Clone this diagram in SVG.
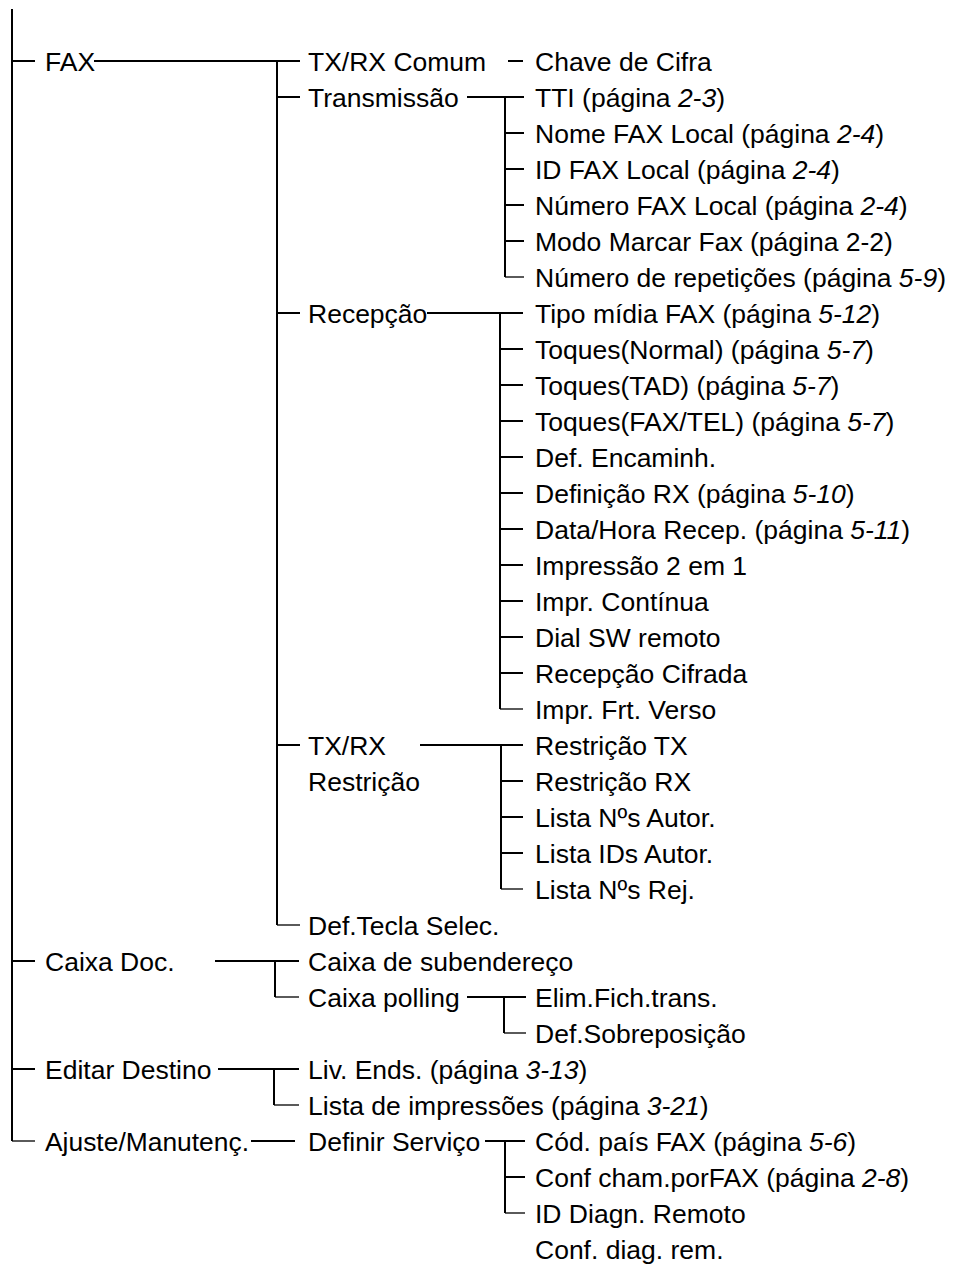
<svg xmlns="http://www.w3.org/2000/svg" width="953" height="1264" viewBox="0 0 953 1264">
<style>
text{font-family:"Liberation Sans",Arial,sans-serif;font-size:26.5px;fill:#000}
.i{font-style:italic}
.c{stroke:#000;stroke-width:2;fill:none}
.e{stroke:#000;stroke-width:1.3;fill:none}
</style>
<rect width="953" height="1264" fill="#fff"/>
<g id="connectors">
<path class="c" d="M12 9V1141M12 61H35M12 961H35M12 1069H35"/>
<path class="e" d="M12 1141H35"/>
<path class="c" d="M94 61H300M277 61V925M277 97H300M277 313H300M277 745H300"/>
<path class="e" d="M277 925H300"/>
<path class="c" d="M508 61H523"/>
<path class="c" d="M467 97H524M505 97V277M505 133H524M505 169H524M505 205H524M505 241H524"/>
<path class="e" d="M505 277H524"/>
<path class="c" d="M427 313H523M500 313V709M500 349H523M500 385H523M500 421H523M500 457H523M500 493H523M500 529H523M500 565H523M500 601H523M500 637H523M500 673H523"/>
<path class="e" d="M500 709H523"/>
<path class="c" d="M420 745H523M501 745V889M501 781H523M501 817H523M501 853H523"/>
<path class="e" d="M501 889H523"/>
<path class="c" d="M215 961H299M275 961V997"/>
<path class="e" d="M275 997H299"/>
<path class="c" d="M467 997H526M504 997V1033"/>
<path class="e" d="M504 1033H526"/>
<path class="c" d="M218 1069H299M274 1069V1105"/>
<path class="e" d="M274 1105H299"/>
<path class="c" d="M251 1141H295"/>
<path class="c" d="M485 1141H525M505 1141V1213M505 1177H525"/>
<path class="e" d="M505 1213H525"/>
</g>
<g id="n-fax"><text x="45" y="70.5">FAX</text></g>
<g id="n-txrx-comum"><text x="308" y="70.5">TX/RX Comum</text></g>
<g id="n-chave"><text x="535" y="70.5">Chave de Cifra</text></g>
<g id="n-transmissao"><text x="308" y="106.5">Transmissão</text></g>
<g id="n-tti"><text x="535" y="106.5">TTI (página <tspan class="i">2-3</tspan>)</text></g>
<g id="n-nome"><text x="535" y="142.5">Nome FAX Local (página <tspan class="i">2-4</tspan>)</text></g>
<g id="n-id"><text x="535" y="178.5">ID FAX Local (página <tspan class="i">2-4</tspan>)</text></g>
<g id="n-numero"><text x="535" y="214.5">Número FAX Local (página <tspan class="i">2-4</tspan>)</text></g>
<g id="n-modo"><text x="535" y="250.5">Modo Marcar Fax (página 2-2)</text></g>
<g id="n-repet"><text x="535" y="286.5">Número de repetições (página <tspan class="i">5-9</tspan>)</text></g>
<g id="n-recepcao"><text x="308" y="322.5">Recepção</text></g>
<g id="n-tipo"><text x="535" y="322.5">Tipo mídia FAX (página <tspan class="i">5-12</tspan>)</text></g>
<g id="n-toq-normal"><text x="535" y="358.5">Toques(Normal) (página <tspan class="i">5-7</tspan>)</text></g>
<g id="n-toq-tad"><text x="535" y="394.5">Toques(TAD) (página <tspan class="i">5-7</tspan>)</text></g>
<g id="n-toq-faxtel"><text x="535" y="430.5">Toques(FAX/TEL) (página <tspan class="i">5-7</tspan>)</text></g>
<g id="n-encaminh"><text x="535" y="466.5">Def. Encaminh.</text></g>
<g id="n-defrx"><text x="535" y="502.5">Definição RX (página <tspan class="i">5-10</tspan>)</text></g>
<g id="n-datahora"><text x="535" y="538.5">Data/Hora Recep. (página <tspan class="i">5-11</tspan>)</text></g>
<g id="n-2em1"><text x="535" y="574.5">Impressão 2 em 1</text></g>
<g id="n-continua"><text x="535" y="610.5">Impr. Contínua</text></g>
<g id="n-dialsw"><text x="535" y="646.5">Dial SW remoto</text></g>
<g id="n-cifrada"><text x="535" y="682.5">Recepção Cifrada</text></g>
<g id="n-frtverso"><text x="535" y="718.5">Impr. Frt. Verso</text></g>
<g id="n-txrx-restr"><text x="308" y="754.5">TX/RX</text><text x="308" y="790.5">Restrição</text></g>
<g id="n-restr-tx"><text x="535" y="754.5">Restrição TX</text></g>
<g id="n-restr-rx"><text x="535" y="790.5">Restrição RX</text></g>
<g id="n-lista-nos-autor"><text x="535" y="826.5">Lista Nºs Autor.</text></g>
<g id="n-lista-ids"><text x="535" y="862.5">Lista IDs Autor.</text></g>
<g id="n-lista-nos-rej"><text x="535" y="898.5">Lista Nºs Rej.</text></g>
<g id="n-deftecla"><text x="308" y="934.5">Def.Tecla Selec.</text></g>
<g id="n-caixadoc"><text x="45" y="970.5">Caixa Doc.</text></g>
<g id="n-subend"><text x="308" y="970.5">Caixa de subendereço</text></g>
<g id="n-polling"><text x="308" y="1006.5">Caixa polling</text></g>
<g id="n-elim"><text x="535" y="1006.5">Elim.Fich.trans.</text></g>
<g id="n-sobrep"><text x="535" y="1042.5">Def.Sobreposição</text></g>
<g id="n-editar"><text x="45" y="1078.5">Editar Destino</text></g>
<g id="n-liv"><text x="308" y="1078.5">Liv. Ends. (página <tspan class="i">3-13</tspan>)</text></g>
<g id="n-lista-impr"><text x="308" y="1114.5">Lista de impressões (página <tspan class="i">3-21</tspan>)</text></g>
<g id="n-ajuste"><text x="45" y="1150.5" textLength="204" lengthAdjust="spacingAndGlyphs">Ajuste/Manutenç.</text></g>
<g id="n-definir"><text x="308" y="1150.5">Definir Serviço</text></g>
<g id="n-cod"><text x="535" y="1150.5">Cód. país FAX (página <tspan class="i">5-6</tspan>)</text></g>
<g id="n-confcham"><text x="535" y="1186.5">Conf cham.porFAX (página <tspan class="i">2-8</tspan>)</text></g>
<g id="n-iddiag"><text x="535" y="1222.5">ID Diagn. Remoto</text></g>
<g id="n-confdiag"><text x="535" y="1258.5">Conf. diag. rem.</text></g>
</svg>
